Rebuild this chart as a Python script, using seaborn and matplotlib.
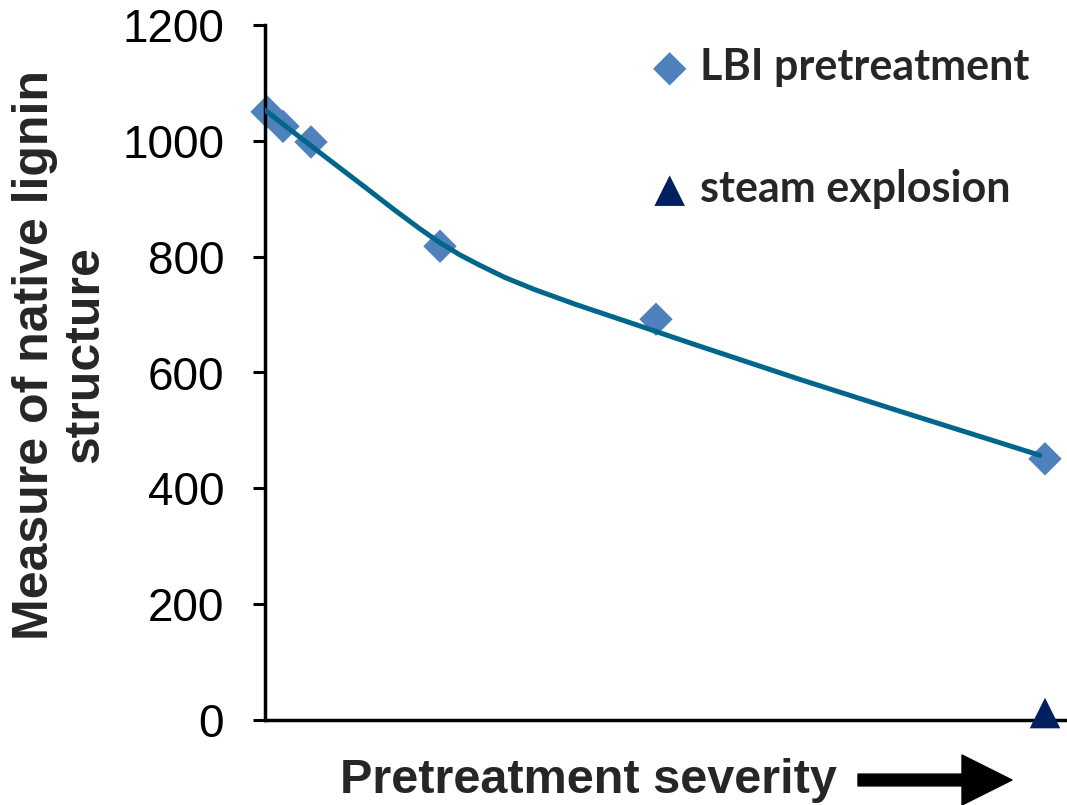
import pandas as pd
import matplotlib.pyplot as plt
import seaborn as sns

# LBI pretreatment measurements (x = relative severity, arbitrary units)
lbi_x = [2, 18, 46, 175, 391, 780]
lbi_y = [1050, 1025, 998, 818, 692, 451]

# steam explosion point
steam_x = [780]
steam_y = [12]

# trend line
trend_x = [0, 50, 100, 130, 155, 175, 195, 215, 240, 270, 310, 360, 425, 535, 635, 775]
trend_y = [1053, 986, 920, 880, 848, 824, 803, 785, 764, 743, 718, 689, 651, 588, 533, 457]

y_ticks = [0, 200, 400, 600, 800, 1000, 1200]

sns.set_style("ticks")
plt.rcParams['font.family'] = ['Liberation Sans', 'DejaVu Sans']

fig = plt.figure(figsize=(10.67, 8.05), dpi=100)
ax = fig.add_axes([265 / 1067, 85 / 805, 802 / 1067, 695 / 805])

trend = pd.DataFrame({'x': trend_x, 'y': trend_y})
sns.lineplot(data=trend, x='x', y='y', ax=ax, color='#00668C', lw=3.6,
             sort=False, estimator=None, zorder=3)

lbi = pd.DataFrame({'x': lbi_x, 'y': lbi_y})
sns.scatterplot(data=lbi, x='x', y='y', ax=ax, marker='D', s=17 ** 2,
                color='#4F81BD', edgecolor='none', label='LBI pretreatment',
                zorder=2, clip_on=False)

steam = pd.DataFrame({'x': steam_x, 'y': steam_y})
sns.scatterplot(data=steam, x='x', y='y', ax=ax, marker='^', s=22 ** 2,
                color='#002060', edgecolor='none', label='steam explosion',
                zorder=4, clip_on=False)

ax.set_xlim(0, 802)
ax.set_ylim(0, 1200)
ax.set_yticks(y_ticks)
ax.set_xticks([])
ax.set_xlabel('')
ax.set_ylabel('')
ax.tick_params(axis='y', direction='out', length=8.5, width=2.2, pad=21,
               labelsize=33, color='black', labelcolor='black')
for side in ['top', 'right']:
    ax.spines[side].set_visible(False)
for side in ['left', 'bottom']:
    ax.spines[side].set_linewidth(2.5)
    ax.spines[side].set_color('black')

leg = ax.legend(loc='upper left', bbox_to_anchor=(618 / 1067, 1 - 17 / 805),
                bbox_transform=fig.transFigure, frameon=False,
                labelspacing=1.9, handletextpad=0.2, handlelength=1.0,
                borderpad=0.2,
                prop={'family': 'Lato', 'weight': 'bold', 'size': 31})

fig.text(60 / 1067, 1 - 355 / 805, 'Measure of native lignin\nstructure',
         rotation=90, ha='center', va='center', multialignment='center',
         fontsize=36, fontweight='bold', linespacing=1.1)
fig.text(340 / 1067, 1 - 780 / 805, 'Pretreatment severity', ha='left',
         va='center', fontsize=35, fontweight='bold')

ax.annotate('', xy=(1012 / 1067, 1 - 780 / 805), xytext=(858 / 1067, 1 - 780 / 805),
            xycoords='figure fraction', textcoords='figure fraction',
            arrowprops=dict(facecolor='black', edgecolor='black', width=8.5,
                            headwidth=36, headlength=36, shrink=0))

fig.savefig('out.png', dpi=100)
